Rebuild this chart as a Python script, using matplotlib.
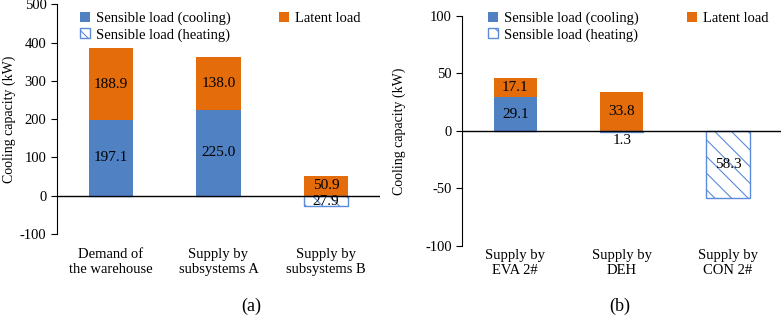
import numpy as np
import matplotlib.pyplot as plt
from matplotlib.patches import Patch

plt.rcParams['font.family'] = ['Liberation Serif', 'DejaVu Serif']
plt.rcParams['hatch.linewidth'] = 0.8
plt.rcParams['axes.unicode_minus'] = False

# panel (a)
cats_a = ['Demand of\nthe warehouse', 'Supply by\nsubsystems A', 'Supply by\nsubsystems B']
cool_a = [197.1, 225.0, 0]
latent_a = [188.9, 138.0, 50.9]
heat_a = [0, 0, -27.9]

# panel (b)
cats_b = ['Supply by\nEVA 2#', 'Supply by\nDEH', 'Supply by\nCON 2#']
cool_b = [29.1, 0, 0]
latent_b = [17.1, 33.8, 0]
heat_b = [0, -1.3, -58.3]

blue = '#4F81C3'
orange = '#E46C0A'
hblue = '#5B8BD9'
fs = 10.5


def draw(ax, cats, cool, latent, heat, ylim, yticks, pad, lab_x, leg_x):
    x = np.arange(len(cats))
    w = 0.41
    ax.bar(x, cool, w, color=blue)
    ax.bar(x, latent, w, bottom=cool, color=orange)
    ax.bar(x, heat, w, color='white', edgecolor=hblue, hatch='\\\\', linewidth=1)
    for i in range(len(cats)):
        if cool[i] > 0:
            ax.text(x[i], cool[i] / 2, f'{cool[i]:.1f}', ha='center', va='center', fontsize=11)
        if latent[i] > 0:
            ax.text(x[i], cool[i] + latent[i] / 2, f'{latent[i]:.1f}', ha='center', va='center', fontsize=11)
        if heat[i] < 0:
            yy = heat[i] / 2 if abs(heat[i]) > 10 else -8
            ax.text(x[i], yy, f'{-heat[i]:.1f}', ha='center', va='center', fontsize=11)
    ax.axhline(0, color='black', lw=1)
    ax.set_xlim(-0.5, len(cats) - 0.5)
    ax.set_ylim(*ylim)
    ax.set_yticks(yticks)
    ax.set_xticks(x)
    ax.set_xticklabels(cats, fontsize=fs)
    ax.tick_params(axis='x', length=0, pad=pad)
    ax.tick_params(axis='y', labelsize=fs, length=4, direction='out')
    for s in ['top', 'right', 'bottom']:
        ax.spines[s].set_visible(False)
    ax.set_ylabel('Cooling capacity (kW)', fontsize=10)
    ax.yaxis.set_label_coords(lab_x, 0.5)
    handles = [Patch(facecolor=blue, label='Sensible load (cooling)'),
               Patch(facecolor='white', edgecolor=hblue, hatch='\\\\', label='Sensible load (heating)'),
               Patch(facecolor=orange, label='Latent load')]
    ax.legend(handles=handles, ncol=2, frameon=False, fontsize=fs, loc='upper left',
              bbox_to_anchor=(leg_x, 0.963), bbox_transform=fig.transFigure,
              handlelength=0.7, handleheight=0.7, borderpad=0,
              handletextpad=0.4, columnspacing=3.3, labelspacing=0.2, borderaxespad=0)


fig = plt.figure(figsize=(7.82, 3.17), dpi=100)
ax1 = fig.add_axes([0.0729, 0.262, 0.413, 0.724])
ax2 = fig.add_axes([0.591, 0.224, 0.408, 0.726])

draw(ax1, cats_a, cool_a, latent_a, heat_a, (-100, 500), [-100, 0, 100, 200, 300, 400, 500], 10,
     -0.128, 0.102)
draw(ax2, cats_b, cool_b, latent_b, heat_b, (-100, 100), [-100, -50, 0, 50, 100], 2,
     -0.176, 0.624)

fig.text(0.321, 0.035, '(a)', ha='center', va='center', fontsize=13)
fig.text(0.793, 0.035, '(b)', ha='center', va='center', fontsize=13)

fig.savefig('out.png', dpi=100)
